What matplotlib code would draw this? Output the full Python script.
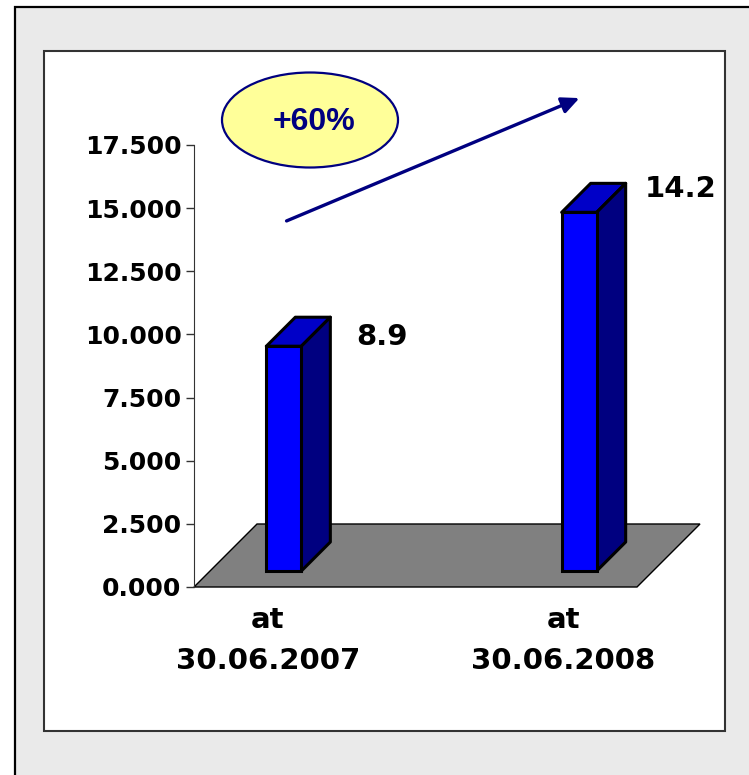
import matplotlib
matplotlib.use("Agg")
import matplotlib.pyplot as plt
from matplotlib.patches import Rectangle, Ellipse, Polygon, FancyArrowPatch
import numpy as np

# data
categories = ["at\n30.06.2007", "at\n30.06.2008"]
values = [8.9, 14.2]
value_labels = ["8.9", "14.2"]
y_ticks = [0, 2.5, 5, 7.5, 10, 12.5, 15, 17.5]
growth_label = "+60%"

W, H = 749, 775
plt.rcParams['font.family'] = ['DejaVu Sans']
plt.rcParams['font.weight'] = 'bold'

fig = plt.figure(figsize=(W / 100, H / 100), dpi=100)
fig.patch.set_facecolor("white")


def fx(px):
    return px / W


def fy(py):
    return 1 - py / H


# outer grey frame and inner white plot box
fig.add_artist(Rectangle((fx(15), fy(800)), (780 - 15) / W, (800 - 7) / H,
                         transform=fig.transFigure, fc="#eaeaea", ec="black", lw=1.6, zorder=-3))
fig.add_artist(Rectangle((fx(44), fy(731)), (725 - 44) / W, (731 - 51) / H,
                         transform=fig.transFigure, fc="white", ec="#333333", lw=1.5, zorder=-2))

ax = fig.add_axes([fx(194), fy(587), 443 / W, 442 / H])
ax.set_xlim(-0.25, 1.25)
ax.set_ylim(0, 17.5)
ax.patch.set_visible(False)
for s in ["top", "right", "bottom"]:
    ax.spines[s].set_visible(False)
ax.spines["left"].set_color("#333333")
ax.set_yticks(y_ticks)
ax.set_yticklabels([f"{t:.3f}" for t in y_ticks], fontsize=18, fontweight="bold")
ax.tick_params(axis="y", direction="out", length=6, width=1, color="#333333", pad=3)
ax.set_xticks(range(len(categories)))
ax.set_xticklabels(categories, fontsize=21, fontweight="bold", linespacing=1.55)
ax.tick_params(axis="x", length=0, pad=14)

# pixel -> data scale, used for the fake 3d depth
sx = ax.bbox.width / 1.5
sy = ax.bbox.height / 17.5
floor_depth = 63
bar_front = 16
bar_depth = 29
bar_w = 35 / sx

x0, x1 = ax.get_xlim()
floor = Polygon([(x0, 0), (x1, 0), (x1 + floor_depth / sx, floor_depth / sy),
                 (x0 + floor_depth / sx, floor_depth / sy)],
                closed=True, fc="#808080", ec="black", lw=1, clip_on=False, zorder=1)
ax.add_patch(floor)

label_offsets = [(52, -28), (55, -14)]
for i, v in enumerate(values):
    cx = i + bar_front / sx
    b = bar_front / sy
    ax.bar(cx, v, width=bar_w, bottom=b, color="#0000ff", edgecolor="black",
           lw=2.2, zorder=4, clip_on=False)
    l, r, t = cx - bar_w / 2, cx + bar_w / 2, v + b
    ddx, ddy = bar_depth / sx, bar_depth / sy
    ax.add_patch(Polygon([(l, t), (r, t), (r + ddx, t + ddy), (l + ddx, t + ddy)],
                         closed=True, fc="#0000c8", ec="black", lw=2.2, clip_on=False,
                         zorder=3, joinstyle="round"))
    ax.add_patch(Polygon([(r, b), (r, t), (r + ddx, t + ddy), (r + ddx, b + ddy)],
                         closed=True, fc="#000080", ec="black", lw=2.2, clip_on=False,
                         zorder=3, joinstyle="round"))
    ax.annotate(value_labels[i], xy=(r + ddx, t + ddy), xytext=label_offsets[i],
                textcoords="offset pixels", ha="center", va="baseline",
                fontsize=21, fontweight="bold", annotation_clip=False)

# growth annotation
fig.add_artist(Ellipse((fx(310), fy(120)), 176 / W, 95 / H, transform=fig.transFigure,
                       fc="#ffff99", ec="#000080", lw=1.6, zorder=5))
fig.text(fx(314), fy(122), growth_label, ha="center", va="center", fontsize=23,
         fontweight="bold", family="Liberation Sans", color="#000080", zorder=6)
fig.add_artist(FancyArrowPatch((fx(284), fy(222)), (fx(582), fy(97)),
                               transform=fig.transFigure,
                               arrowstyle="-|>,head_length=0.75,head_width=0.35",
                               mutation_scale=14, color="#000080", lw=2.4, zorder=5))

fig.savefig("out.png", dpi=100)
